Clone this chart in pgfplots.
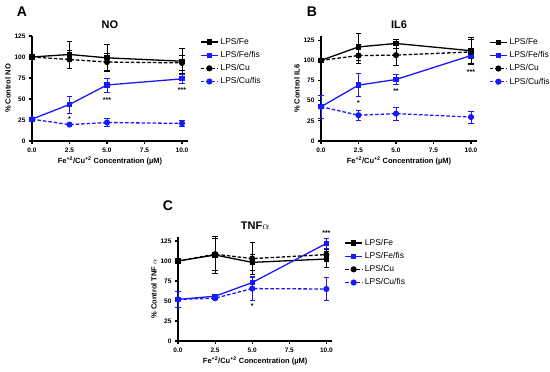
\documentclass[border=0pt]{standalone}
\usepackage{pgfplots}
\pgfplotsset{compat=1.18}
\usepackage{fontspec}
\setmainfont{Liberation Sans}
\definecolor{gpblue}{RGB}{25,25,255}
\tikzset{sigstar/.style={font=\bfseries\fontsize{7}{7}\selectfont, inner sep=0pt}}
\pgfplotsset{
  gp/.style={
    scale only axis,
    axis x line*=bottom, axis y line*=left,
    axis line style={-, line width=1.3pt},
    xmin=0, xmax=10.4, ymin=0,
    xtick={0,2.5,5,7.5,10},
    ytick={0,25,50,75,100,125},
    tick align=outside, major tick length=3pt,
    tick style={black, line width=1.1pt},
    /pgf/number format/assume math mode=true,
    ticklabel style={font=\bfseries\fontsize{6.5}{7}\selectfont},
    x tick label style={/pgf/number format/fixed, /pgf/number format/fixed zerofill, /pgf/number format/precision=1},
    xlabel={Fe\textsuperscript{+2}/Cu\textsuperscript{+2} Concentration (µM)},
    label style={font=\bfseries\fontsize{7.5}{8}\selectfont},
    xlabel style={yshift=2pt},
    ylabel style={yshift=-3pt},
    title style={font=\bfseries\fontsize{11}{12}\selectfont, yshift=-2pt},
    clip=false,
    legend style={at={(rel axis cs:1,1)}, anchor=north west, xshift=9pt, yshift=2pt,
      draw=none, fill=none, font=\fontsize{8.5}{9}\selectfont, row sep=1.5pt},
    legend cell align=left,
    error bars/y dir=both, error bars/y explicit,
    error bars/error bar style={solid, line width=0.7pt},
    error bars/error mark options={mark size=2.6pt, line width=0.7pt, rotate=90},
  },
  fe/.style={black, line width=1.3pt, mark=square*, mark size=2pt, mark options={solid}},
  cu/.style={black, line width=1.3pt, dash pattern=on 3.5pt off 2pt, mark=*, mark size=2.4pt, mark options={solid}},
  fefis/.style={fe, gpblue},
  cufis/.style={cu, gpblue},
}
\begin{document}
\begin{tikzpicture}
\path[use as bounding box] (0pt,0pt) rectangle (550pt,-372pt);
% Panel A
\begin{axis}[gp, at={(32pt,-141pt)}, anchor=south west, width=156pt, height=105pt, ymax=125,
  title={NO}, ylabel={\% Control NO}]
\addplot[fe] coordinates {(0,100) +- (0,0) (2.5,103) +- (0,16) (5,99) +- (0,16) (10,95) +- (0,15)};
\addplot[fefis] coordinates {(0,26) +- (0,0) (2.5,43.5) +- (0,10) (5,66.7) +- (0,8.3) (10,74) +- (0,5)};
\addplot[cu] coordinates {(0,100) +- (0,0) (2.5,97) +- (0,11) (5,94) +- (0,10) (10,93) +- (0,9)};
\addplot[cufis] coordinates {(0,26) +- (0,0) (2.5,19.5) +- (0,1) (5,22) +- (0,4.5) (10,21) +- (0,4)};
\legend{LPS/Fe, LPS/Fe/fis, LPS/Cu, LPS/Cu/fis}
\node[sigstar] at (axis cs:2.5,26) {*};
\node[sigstar] at (axis cs:5,48.5) {***};
\node[sigstar] at (axis cs:10,60.5) {***};
\end{axis}
% Panel B
\begin{axis}[gp, at={(321pt,-141pt)}, anchor=south west, width=156pt, height=104.8pt, ymax=130,
  title={IL6}, ylabel={\% Control IL6}]
\addplot[fe] coordinates {(0,100) +- (0,0) (2.5,116.7) +- (0,17) (5,121) +- (0,5.5) (10,112) +- (0,16)};
\addplot[fefis] coordinates {(0,42.5) +- (0,14) (2.5,69.3) +- (0,14.5) (5,76.3) +- (0,6) (10,106) +- (0,3)};
\addplot[cu] coordinates {(0,100) +- (0,0) (2.5,106) +- (0,10) (5,106.5) +- (0,13) (10,110.5) +- (0,15)};
\addplot[cufis] coordinates {(0,42.5) +- (0,0) (2.5,32) +- (0,6) (5,34) +- (0,8) (10,29.7) +- (0,7.5)};
\legend{LPS/Fe, LPS/Fe/fis, LPS/Cu, LPS/Cu/fis}
\node[sigstar] at (axis cs:2.5,47.5) {*};
\node[sigstar] at (axis cs:5,62) {**};
\node[sigstar] at (axis cs:10,85.5) {***};
\end{axis}
% Panel C
\begin{axis}[gp, at={(178pt,-341pt)}, anchor=south west, width=154.3pt, height=104pt, ymax=130,
  title={TNF$\alpha$}, ylabel={\% Control TNF $\alpha$}]
\addplot[fe] coordinates {(0,100) +- (0,0) (2.5,107.5) +- (0,23) (5,98.3) +- (0,10) (10,102.5) +- (0,10)};
\addplot[fefis] coordinates {(0,52) +- (0,10.5) (2.5,56) +- (0,1) (5,73) +- (0,8) (10,122) +- (0,6)};
\addplot[cu] coordinates {(0,100) +- (0,0) (2.5,108.5) +- (0,20) (5,103) +- (0,20) (10,108) +- (0,7)};
\addplot[cufis] coordinates {(0,52) +- (0,0) (2.5,53.5) +- (0,1) (5,65.5) +- (0,14.5) (10,65) +- (0,14)};
\legend{LPS/Fe, LPS/Fe/fis, LPS/Cu, LPS/Cu/fis}
\node[sigstar] at (axis cs:5,44) {*};
\node[sigstar] at (axis cs:10,135.5) {***};
\end{axis}
\node[font=\bfseries\fontsize{14}{14}\selectfont] at (22pt,-12pt) {A};
\node[font=\bfseries\fontsize{14}{14}\selectfont] at (312pt,-12pt) {B};
\node[font=\bfseries\fontsize{14}{14}\selectfont] at (168pt,-206pt) {C};
\end{tikzpicture}
\end{document}
